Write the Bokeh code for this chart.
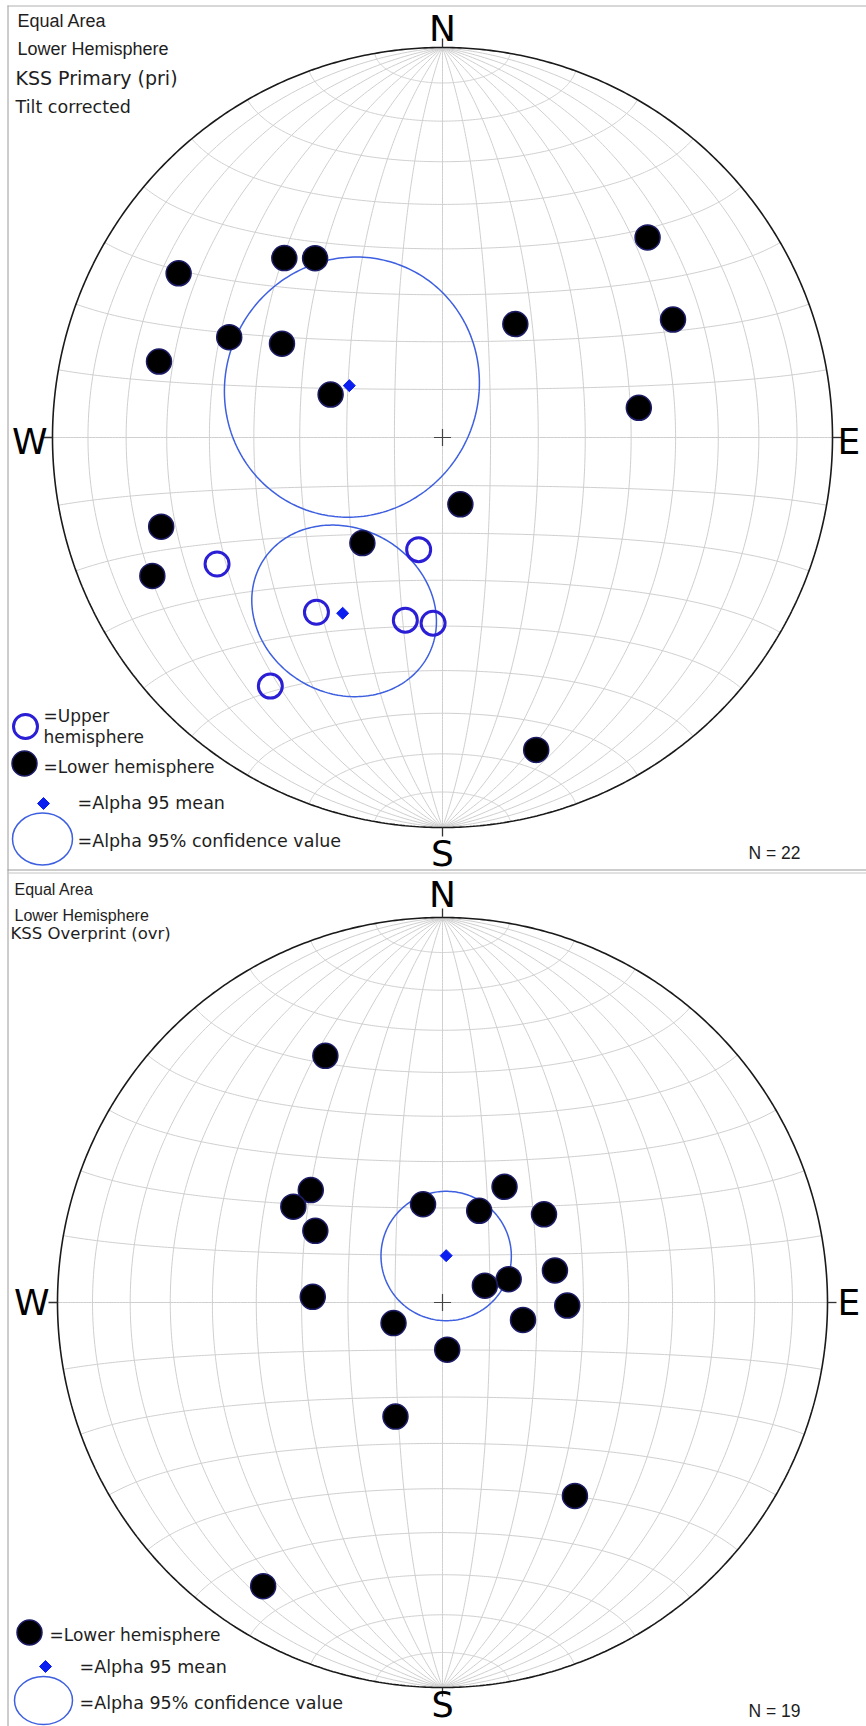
import numpy as np
from bokeh.plotting import figure
from bokeh.models import Range1d
from bokeh.core.properties import value
from bokeh.embed import file_html
from bokeh.resources import INLINE

# ---------------- data (declination / inclination, degrees) ----------------
# KSS Primary (pri), tilt corrected
pri_lower_dec = [301.9, 318.6, 324.6, 45.7, 32.7, 62.9, 295.2, 300.3, 285.0, 291.0,
                 81.4, 165.0, 252.4, 217.2, 244.5, 163.3]
pri_lower_inc = [21.4, 38.6, 43.0, 27.4, 61.7, 34.0, 39.4, 50.6, 25.7, 64.9,
                 47.8, 75.6, 25.3, 62.2, 18.7, 17.5]
pri_upper_dec = [240.7, 192.0, 215.8, 191.5, 182.9, 214.7]
pri_upper_inc = [-34.1, -66.0, -44.0, -50.5, -50.6, -23.5]
pri_mean_dec = [299.1, 209.6]
pri_mean_inc = [67.7, -47.0]
pri_a95 = [27.0, 18.5]
pri_n = 22

# KSS Overprint (ovr)
ovr_dec = [334.6, 310.5, 302.7, 299.4, 272.5, 348.8, 28.2, 21.8, 49.0, 74.1,
           70.6, 68.4, 91.4, 102.2, 247.2, 174.3, 202.4, 145.6, 212.3]
ovr_inc = [29.8, 52.9, 52.0, 58.9, 62.4, 68.8, 62.1, 69.1, 61.4, 65.2,
           75.2, 80.4, 63.5, 72.6, 78.8, 80.0, 63.8, 39.0, 13.9]
ovr_mean_dec = [4.5]
ovr_mean_inc = [80.1]
ovr_a95 = [13.7]
ovr_n = 19

# ---------------- projection helpers ----------------
def dir2vec(dec, inc):
    d = np.radians(np.asarray(dec, float))
    i = np.radians(np.asarray(inc, float))
    return np.cos(i) * np.cos(d), np.cos(i) * np.sin(d), np.sin(i)


def proj(n, e, dn):
    """Equal-area (Schmidt) projection, lower hemisphere (upper plotted by |inc|)."""
    dn = np.abs(dn)
    f = 1.0 / np.sqrt(1.0 + dn)
    return e * f, n * f


def cone(dec, inc, a95, npts=241):
    m = np.array([float(c) for c in dir2vec(dec, inc)])
    tmp = np.array([1.0, 0, 0]) if abs(m[2]) > 0.9 else np.array([0, 0, 1.0])
    u = np.cross(m, tmp); u /= np.linalg.norm(u)
    v = np.cross(m, u)
    phi = np.linspace(0, 2 * np.pi, npts)
    a = np.radians(a95)
    pts = np.cos(a) * m[:, None] + np.sin(a) * (np.outer(u, np.cos(phi)) + np.outer(v, np.sin(phi)))
    return proj(pts[0], pts[1], pts[2])


GRID = "#cfcfcf"
OPEN_C = "#2b1fd6"
CONF_C = "#3d5fe0"
MEAN_C = "#0a1ef0"
TXT = "#1e1e1e"

W, H = 866, 1726
p = figure(width=W, height=H, x_range=Range1d(0, W), y_range=Range1d(H, 0),
           output_backend="svg", toolbar_location=None, min_border=0,
           x_axis_location=None, y_axis_location=None, outline_line_color=None,
           background_fill_color="white", border_fill_color="white")
p.grid.visible = False


def txt(x, y, s, font="DejaVu Sans", size=17, align="left", color=TXT):
    # y is the wanted baseline; compensate for the renderer's baseline offset
    p.text(x=[x], y=[y - 0.34 * size], text=[s], text_font=value(font),
           text_font_size=value(f"{size}px"), text_align=align,
           text_baseline="alphabetic", text_color=color)


def draw_net(cx, cy, R):
    def page(X, Y):
        return cx + R * np.asarray(X), cy - R * np.asarray(Y)

    xs, ys = [], []
    t = np.linspace(0, np.pi, 241)
    for delta in range(10, 91, 10):
        sides = (1,) if delta == 90 else (1, -1)
        for sg in sides:
            dl = np.radians(delta)
            X, Y = proj(np.cos(t), sg * np.sin(t) * np.cos(dl), np.sin(t) * np.sin(dl))
            px, py = page(X, Y)
            xs.append(px); ys.append(py)
    for al in range(10, 171, 10):
        a = np.radians(al)
        X, Y = proj(np.cos(a) * np.ones_like(t), np.sin(a) * np.cos(t), np.sin(a) * np.sin(t))
        px, py = page(X, Y)
        xs.append(px); ys.append(py)
    p.multi_line(xs, ys, line_color=GRID, line_width=1)

    th = np.linspace(0, 2 * np.pi, 721)
    px, py = page(np.cos(th), np.sin(th))
    p.line(px, py, line_color="#1a1a1a", line_width=1.6)

    p.segment(x0=[cx, cx + R, cx, cx - R], y0=[cy - R, cy, cy + R, cy],
              x1=[cx, cx + R + 9, cx, cx - R - 9], y1=[cy - R - 9, cy, cy + R + 9, cy],
              line_color="#333333", line_width=1.3)
    p.scatter([cx], [cy], marker="cross", size=17, line_color="#444444", line_width=1.2)
    return page


def legend_lower(x, y):
    p.scatter([x], [y], marker="circle", size=25, fill_color="black",
              line_color="#1c1c66", line_width=1.5)


def legend_upper(x, y):
    p.scatter([x], [y], marker="circle", size=24, fill_color=None,
              line_color=OPEN_C, line_width=3)


def legend_mean(x, y):
    p.scatter([x], [y], marker="square", angle=np.pi / 4, size=8.5,
              fill_color=MEAN_C, line_color=MEAN_C)


def legend_conf(x, y, w, h):
    p.ellipse(x=[x], y=[y], width=w, height=h, fill_color=None,
              line_color=CONF_C, line_width=1.5)


# ---------------- panel borders ----------------
p.segment(x0=[7.5, 7, 7, 7], y0=[5, 5.5, 869.5, 872.5], x1=[7.5, W, W, W],
          y1=[H, 5.5, 869.5, 872.5],
          line_color=["#9a9a9a", "#b0b0b0", "#9a9a9a", "#c4c4c4"], line_width=1)

# ================= Panel 1: KSS Primary =================
page1 = draw_net(442, 437, 390)

for d, i, a in zip(pri_mean_dec, pri_mean_inc, pri_a95):
    X, Y = cone(d, i, a)
    px, py = page1(X, Y)
    p.line(px, py, line_color=CONF_C, line_width=1.5)

X, Y = proj(*dir2vec(pri_lower_dec, pri_lower_inc))
px, py = page1(X, Y)
p.scatter(px, py, marker="circle", size=25, fill_color="black", line_color="#1c1c66", line_width=1.5)

X, Y = proj(*dir2vec(pri_upper_dec, pri_upper_inc))
px, py = page1(X, Y)
p.scatter(px, py, marker="circle", size=24, fill_color=None, line_color=OPEN_C, line_width=3)

X, Y = proj(*dir2vec(pri_mean_dec, pri_mean_inc))
px, py = page1(X, Y)
p.scatter(px, py, marker="square", angle=np.pi / 4, size=8.5, fill_color=MEAN_C, line_color=MEAN_C)

txt(17, 27, "Equal Area", font="Liberation Sans", size=18)
txt(17, 55, "Lower Hemisphere", font="Liberation Sans", size=18)
txt(15, 84, "KSS Primary (pri)", size=19)
txt(15, 112, "Tilt corrected", size=17.5)
txt(442, 40, "N", size=36, align="center", color="black")
txt(442, 865, "S", size=36, align="center", color="black")
txt(47, 453, "W", size=36, align="right", color="black")
txt(837, 453, "E", size=36, align="left", color="black")
txt(748, 858, f"N = {pri_n}", font="Liberation Sans", size=17.5)

legend_upper(25, 726)
txt(43, 721, "=Upper", size=17)
txt(43, 742, "hemisphere", size=17)
legend_lower(24, 763)
txt(43, 772, "=Lower hemisphere", size=17)
legend_mean(43, 803)
txt(77, 808, "=Alpha 95 mean", size=17.5)
legend_conf(42, 838.5, 60, 52)
txt(77, 846, "=Alpha 95% confidence value", size=17.5)

# ================= Panel 2: KSS Overprint =================
page2 = draw_net(442, 1302, 385)

for d, i, a in zip(ovr_mean_dec, ovr_mean_inc, ovr_a95):
    X, Y = cone(d, i, a)
    px, py = page2(X, Y)
    p.line(px, py, line_color=CONF_C, line_width=1.5)

X, Y = proj(*dir2vec(ovr_dec, ovr_inc))
px, py = page2(X, Y)
p.scatter(px, py, marker="circle", size=25, fill_color="black", line_color="#1c1c66", line_width=1.5)

X, Y = proj(*dir2vec(ovr_mean_dec, ovr_mean_inc))
px, py = page2(X, Y)
p.scatter(px, py, marker="square", angle=np.pi / 4, size=8.5, fill_color=MEAN_C, line_color=MEAN_C)

txt(14, 894, "Equal Area", font="Liberation Sans", size=16)
txt(14, 920, "Lower Hemisphere", font="Liberation Sans", size=16)
txt(10, 939, "KSS Overprint (ovr)", size=16.5)
txt(442, 906, "N", size=36, align="center", color="black")
txt(442, 1716, "S", size=35, align="center", color="black")
txt(49, 1314, "W", size=36, align="right", color="black")
txt(837, 1314, "E", size=36, align="left", color="black")
txt(748, 1716, f"N = {ovr_n}", font="Liberation Sans", size=17.5)

legend_lower(29, 1632)
txt(49, 1640, "=Lower hemisphere", size=17)
legend_mean(45, 1666)
txt(79, 1672, "=Alpha 95 mean", size=17.5)
legend_conf(43, 1700, 58, 48)
txt(79, 1708, "=Alpha 95% confidence value", size=17.5)

open("out.html", "w").write(file_html(p, INLINE))
